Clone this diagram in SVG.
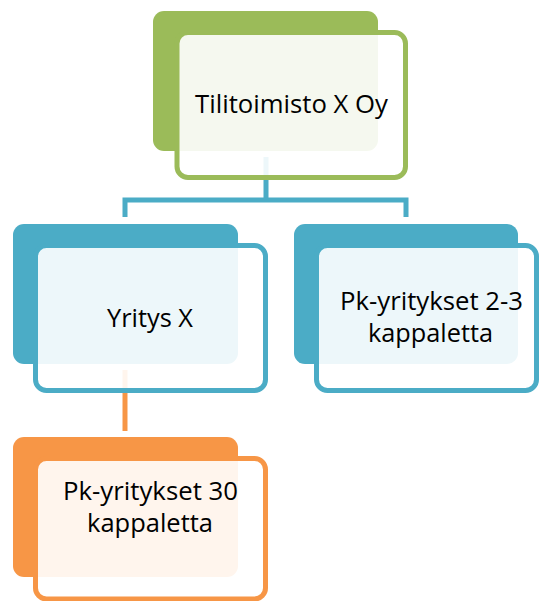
<svg xmlns="http://www.w3.org/2000/svg" width="539" height="601" viewBox="0 0 539 601">
<style>
.bg{fill:#fff}
.back{stroke:none}
.front{fill:#fff;fill-opacity:0.9;stroke-width:5}
.lbl{font-family:"Open Sans","Liberation Sans",sans-serif;font-size:25px;fill:#000;text-anchor:middle}
.conn{fill:none;stroke-width:5}
</style>
<rect class="bg" x="0" y="0" width="539" height="601"/>
<g id="connectors">
<path class="conn" stroke="#4bacc6" d="M125,217 V200 H406 V217 M266,157 V200"/>
<path class="conn" stroke="#f79646" d="M125,370 V431"/>
</g>
<g id="node-tilitoimisto">
<rect class="back" x="153" y="11" width="225" height="140" rx="11" fill="#9bbb59"/>
<rect class="front" x="177" y="32.5" width="228.5" height="145" rx="11" stroke="#9bbb59"/>
<text class="lbl" x="291.5" y="113" textLength="193" lengthAdjust="spacingAndGlyphs">Tilitoimisto X Oy</text>
</g>
<g id="node-yritys">
<rect class="back" x="13" y="224" width="225" height="140" rx="11" fill="#4bacc6"/>
<rect class="front" x="35.5" y="245.5" width="230" height="145" rx="11" stroke="#4bacc6"/>
<text class="lbl" x="150" y="327" textLength="86" lengthAdjust="spacingAndGlyphs">Yritys X</text>
</g>
<g id="node-pk23">
<rect class="back" x="294" y="224" width="224" height="140" rx="11" fill="#4bacc6"/>
<rect class="front" x="316.5" y="245.5" width="220" height="145" rx="11" stroke="#4bacc6"/>
<text class="lbl" x="431.5" y="310" textLength="183" lengthAdjust="spacingAndGlyphs">Pk-yritykset 2-3</text>
<text class="lbl" x="430.5" y="342" textLength="125" lengthAdjust="spacingAndGlyphs">kappaletta</text>
</g>
<g id="node-pk30">
<rect class="back" x="13" y="437" width="225" height="140" rx="11" fill="#f79646"/>
<rect class="front" x="35.5" y="458.5" width="230" height="140.5" rx="11" stroke="#f79646"/>
<text class="lbl" x="150.5" y="500" textLength="175" lengthAdjust="spacingAndGlyphs">Pk-yritykset 30</text>
<text class="lbl" x="150" y="532" textLength="126" lengthAdjust="spacingAndGlyphs">kappaletta</text>
</g>
</svg>
